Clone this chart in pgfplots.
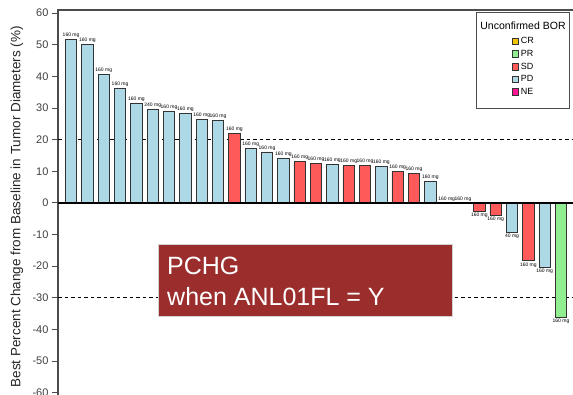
\documentclass[border=0pt]{standalone}
\usepackage{fontspec}
\setmainfont{Liberation Sans}
\usepackage{pgfplots}
\pgfplotsset{compat=1.18}
\definecolor{pd}{HTML}{ADD8E6}
\definecolor{sd}{HTML}{FF5A5A}
\definecolor{pr}{HTML}{90EE90}
\definecolor{cr}{HTML}{F5C400}
\definecolor{ne}{HTML}{FF1493}
\definecolor{boxred}{HTML}{9B2D2D}
\definecolor{tickgray}{HTML}{404040}
\definecolor{bardraw}{HTML}{333333}
\begin{document}
\begin{tikzpicture}
\begin{axis}[
  at={(58pt,-10pt)}, anchor=north west,
  scale only axis, width=527.5pt, height=385.8pt,
  xmin=0.2, xmax=32.5, ymin=-61, ymax=61,
  xtick=\empty,
  ytick={-60,-50,...,60},
  ytick pos=left, tick align=outside, major tick length=6pt,
  axis line style={draw=black!70, line width=1.1pt},
  tick style={draw=black!70, line width=0.9pt},
  yticklabel style={font=\fontsize{11}{11}\selectfont, text=tickgray},
  /pgf/number format/assume math mode=true,
  ylabel={Best Percent Change from Baseline in Tumor Diameters (\%)},
  ylabel style={font=\fontsize{13.5}{13.5}\selectfont, at={(axis description cs:0,0.5)}, anchor=center, yshift=41pt, xshift=-4pt, text=black!85},
  legend image code/.code={\draw[#1] (0pt,-3.3pt) rectangle (6.6pt,3.3pt);},
  legend cell align=left,
  legend style={at={(axis description cs:0.860,0.9352)}, anchor=north west, draw=none, fill=none, inner sep=0pt, font=\fontsize{9}{9}\selectfont, row sep=0pt, nodes={text height=7pt, text depth=2pt, inner sep=1.8pt}},
  every node near coord/.append style={font=\fontsize{5}{5}\selectfont, inner sep=1.5pt, text=black},
  bars/.style={forget plot, ybar, bar width=0.7, bar shift=0pt, draw=bardraw, line width=0.7pt,
    point meta=explicit symbolic, nodes near coords},
  pos/.style={every node near coord/.append style={anchor=south}},
  neg/.style={every node near coord/.append style={anchor=north}},
]
\addplot[forget plot, black, line width=0.8pt, dash pattern=on 3.5pt off 3pt] coordinates {(0.2,20) (32.5,20)};
\addplot[forget plot, black, line width=0.8pt, dash pattern=on 3.5pt off 3pt] coordinates {(0.2,-30) (32.5,-30)};

% PD, positive or zero
\addplot[bars, pos, fill=pd] coordinates {
(1,51.8) [160 mg]
(2,50.2) [160 mg]
(3,40.7) [160 mg]
(4,36.3) [160 mg]
(5,31.5) [160 mg]
(6,29.6) [240 mg]
(7,28.9) [160 mg]
(8,28.4) [160 mg]
(9,26.5) [160 mg]
(10,26.2) [160 mg]
(12,17.2) [160 mg]
(13,16.1) [160 mg]
(14,14.1) [160 mg]
(17,12.1) [160 mg]
(20,11.6) [160 mg]
(23,6.7) [160 mg]
(24,0) [160 mg]
(25,0) [160 mg]
};
% PD, negative
\addplot[bars, neg, fill=pd] coordinates {
(28,-9.3) [40 mg]
(30,-20.3) [160 mg]
};
% SD, positive
\addplot[bars, pos, fill=sd] coordinates {
(11,22.1) [160 mg]
(15,13.0) [160 mg]
(16,12.4) [160 mg]
(18,11.8) [160 mg]
(19,11.8) [160 mg]
(21,9.9) [160 mg]
(22,9.2) [160 mg]
};
% SD, negative
\addplot[bars, neg, fill=sd] coordinates {
(26,-2.7) [160 mg]
(27,-4.0) [160 mg]
(29,-18.3) [160 mg]
};
% PR, negative
\addplot[bars, neg, fill=pr] coordinates {
(31,-36.2) [160 mg]
};
\addplot[forget plot, black, line width=1.5pt] coordinates {(0.2,0) (32.5,0)};

\addlegendimage{fill=cr, draw=bardraw, line width=0.6pt}\addlegendentry{CR}
\addlegendimage{fill=pr, draw=bardraw, line width=0.6pt}\addlegendentry{PR}
\addlegendimage{fill=sd, draw=bardraw, line width=0.6pt}\addlegendentry{SD}
\addlegendimage{fill=pd, draw=bardraw, line width=0.6pt}\addlegendentry{PD}
\addlegendimage{fill=ne, draw=bardraw, line width=0.6pt}\addlegendentry{NE}
\end{axis}
\draw[black!70, line width=0.8pt] (476.7pt,-12.3pt) rectangle (569pt,-108pt);
\node[anchor=base, font=\fontsize{10.5}{10.5}\selectfont, inner sep=0pt] at (523pt,-29.3pt) {Unconfirmed BOR};
\filldraw[fill=boxred, draw=gray!35, line width=0.8pt] (158pt,-244pt) rectangle (452pt,-316pt);
\node[anchor=base west, text=white, font=\fontsize{25}{25}\selectfont, inner sep=0pt] at (167pt,-275pt) {PCHG};
\node[anchor=base west, text=white, font=\fontsize{25}{25}\selectfont, inner sep=0pt] at (167pt,-306pt) {when ANL01FL = Y};
\pgfresetboundingbox
\path (0pt,0pt) rectangle (573pt,-395pt);
\end{tikzpicture}
\end{document}
